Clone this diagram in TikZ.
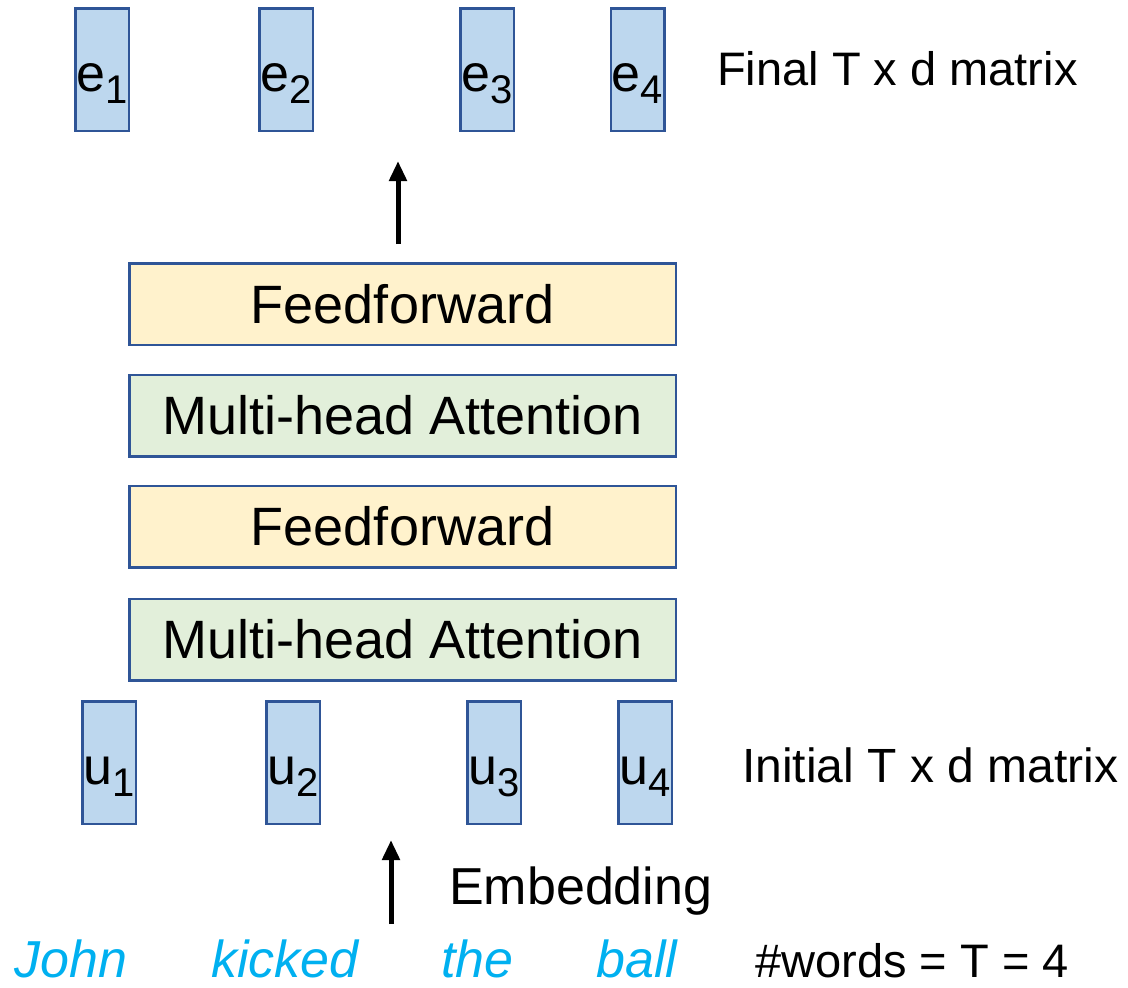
\documentclass[tikz,border=0pt]{standalone}
\usepackage{fontspec}
\setmainfont{Liberation Sans}
\usetikzlibrary{arrows.meta}

\definecolor{vecfill}{HTML}{BDD7EE}
\definecolor{boxline}{HTML}{2F5597}
\definecolor{fffill}{HTML}{FFF2CC}
\definecolor{attfill}{HTML}{E2EFDA}
\definecolor{wordcol}{HTML}{00B0F0}

\newcommand{\vecsub}[2]{#1\raisebox{-12pt}{\fontsize{40}{40}\selectfont #2}}

\begin{document}
\begin{tikzpicture}[
            x=1pt, y=-1pt,
            vec/.style = {
                draw=boxline, line width=2.5pt, fill=vecfill,
                minimum width=53.5pt, minimum height=122.5pt, inner sep=0pt,
                text height=55pt, text depth=12pt,
                font=\fontsize{52}{52}\selectfont
            },
            layer/.style = {
                draw=boxline, line width=2.5pt,
                minimum width=546.5pt, minimum height=81.5pt, inner sep=0pt,
                font=\fontsize{54}{54}\selectfont
            },
            note/.style = {anchor=base west, inner sep=0pt},
            word/.style = {anchor=base west, inner sep=0pt, text=wordcol,
                font=\fontsize{52}{52}\selectfont\itshape},
            up/.style = {
                line width=5pt,
                -{Triangle[length=20pt,width=17pt]}
            }
            ]
            \useasboundingbox (0,0) rectangle (1128,988);

            % Output vectors
            \node[vec] (e1) at (102,69.5)   {\vecsub{e}{1}};
            \node[vec] (e2) at (286,69.5)   {\vecsub{e}{2}};
            \node[vec] (e3) at (487,69.5)   {\vecsub{e}{3}};
            \node[vec] (e4) at (637.5,69.5) {\vecsub{e}{4}};
            \node[note, font=\fontsize{47}{47}\selectfont] (final) at (717,85) {Final T x d matrix};

            % Layers
            \node[layer, fill=fffill]  (ff2)  at (402.5,304)   {Feedforward};
            \node[layer, fill=attfill] (mha2) at (402.5,415.5) {Multi-head Attention};
            \node[layer, fill=fffill]  (ff1)  at (402.5,526.5) {Feedforward};
            \node[layer, fill=attfill] (mha1) at (402.5,639.5) {Multi-head Attention};

            % Input vectors
            \node[vec] (u1) at (109,762.5) {\vecsub{u}{1}};
            \node[vec] (u2) at (293,762.5) {\vecsub{u}{2}};
            \node[vec] (u3) at (494,762.5) {\vecsub{u}{3}};
            \node[vec] (u4) at (645,762.5) {\vecsub{u}{4}};
            \node[note, font=\fontsize{48}{48}\selectfont] (initial) at (742,782) {Initial T x d matrix};

            % Words
            \node[note, font=\fontsize{52}{52}\selectfont] (embed) at (449,904) {Embedding};
            \node[word] (w1) at (14,977)  {John};
            \node[word] (w2) at (211,977) {kicked};
            \node[word] (w3) at (441,977) {the};
            \node[word] (w4) at (596,977) {ball};
            \node[note, font=\fontsize{47}{47}\selectfont] (count) at (755,977) {\#words = T = 4};

            % Arrows
            \coordinate (topfoot) at (398,244);
            \coordinate (tophead) at (398,161);
            \coordinate (embfoot) at (391,924);
            \coordinate (embhead) at (391,840);
            \draw[up] (topfoot) -- (tophead);
            \draw[up] (embfoot) -- (embhead);
        \end{tikzpicture}
\end{document}
